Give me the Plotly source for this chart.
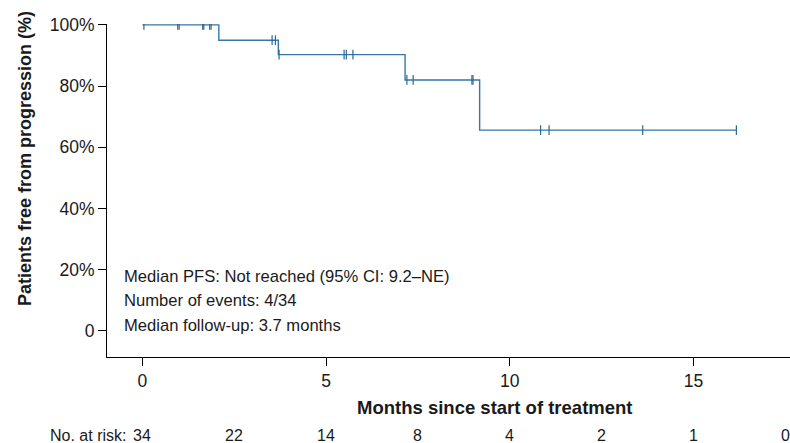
import plotly.graph_objects as go

# ---- data ----
step_times = [0, 2.08, 3.70, 7.15, 9.18, 16.17]
step_surv = [100, 95.0, 90.3, 82.0, 65.6, 65.6]
censor_times = [0.04, 0.96, 1.00, 1.64, 1.67, 1.83, 1.87, 3.53, 3.62, 3.72,
                5.49, 5.55, 5.73, 7.20, 7.37, 8.97, 9.00, 10.84, 11.07, 13.62, 16.17]
risk_times = [0, 2.5, 5, 7.5, 10, 12.5, 15, 17.5]
risk_counts = [34, 22, 14, 8, 4, 2, 1, 0]
y_tickvals = [0, 20, 40, 60, 80, 100]
y_ticktext = ["0", "20%", "40%", "60%", "80%", "100%"]
x_tickvals = [0, 5, 10, 15]
stats_lines = ["Median PFS: Not reached (95% CI: 9.2\u2013NE)",
               "Number of events: 4/34",
               "Median follow-up: 3.7 months"]


def surv_at(t):
    s = step_surv[0]
    for et, sv in zip(step_times, step_surv):
        if t >= et:
            s = sv
    return s


censor_surv = [surv_at(t) for t in censor_times]

FONT = "Arial, Liberation Sans, sans-serif"
TXT = "#1a1a1a"
LINE_COLOR = "#3677a6"

fig = go.Figure()
fig.add_trace(go.Scatter(x=step_times, y=step_surv, mode="lines",
                         line=dict(shape="hv", color=LINE_COLOR, width=1.4),
                         hoverinfo="skip", showlegend=False))
fig.add_trace(go.Scatter(x=censor_times, y=censor_surv, mode="markers",
                         marker=dict(symbol="line-ns", size=7,
                                     line=dict(color="#2b6896", width=1.2)),
                         showlegend=False))

W, H = 790, 443
L, R, T, B = 107, 0, 24, 86
plot_h = H - T - B

fig.update_layout(
    width=W, height=H,
    margin=dict(l=L, r=R, t=T, b=B, pad=0),
    plot_bgcolor="white", paper_bgcolor="white",
    font=dict(family=FONT, size=16, color=TXT),
    xaxis=dict(range=[-0.965, 17.63], tickvals=x_tickvals,
               showgrid=False, zeroline=False, showline=True,
               linecolor="black", linewidth=1, ticks="outside",
               ticklen=8, tickcolor="black", tickwidth=1,
               tickfont=dict(size=17.5, family=FONT, color=TXT)),
    yaxis=dict(range=[-8.6, 100.3], tickvals=y_tickvals, ticktext=y_ticktext,
               showgrid=False, zeroline=False, showline=True,
               linecolor="black", linewidth=1, ticks="outside",
               ticklen=8, tickcolor="black", tickwidth=1,
               tickfont=dict(size=17.5, family=FONT, color=TXT)),
)

def py(pix_y):
    return (H - B - pix_y) / plot_h

def px(pix_x):
    return (pix_x - L) / (W - L - R)

anns = []
# axis titles
anns.append(dict(text="<b>Months since start of treatment</b>", xref="paper", yref="paper",
                 x=px(495), y=py(407), xanchor="center", yanchor="middle",
                 showarrow=False, font=dict(size=18.5, family=FONT, color=TXT)))
anns.append(dict(text="<b>Patients free from progression (%)</b>", xref="paper", yref="paper",
                 x=px(25), y=py(159), xanchor="center", yanchor="middle", textangle=-90,
                 showarrow=False, font=dict(size=18, family=FONT, color=TXT)))
# stats text
for i, line in enumerate(stats_lines):
    anns.append(dict(text=line, xref="paper", yref="paper",
                     x=px(122), y=py(276 + 24.5 * i), xanchor="left", yanchor="middle",
                     showarrow=False, font=dict(size=16.6, family=FONT, color=TXT)))
# number at risk
anns.append(dict(text="No. at risk:", xref="paper", yref="paper",
                 x=px(128), y=py(435), xanchor="right", yanchor="middle",
                 showarrow=False, font=dict(size=16, family=FONT, color=TXT)))
for t, n in zip(risk_times, risk_counts):
    anns.append(dict(text=str(n), xref="x", yref="paper", x=t, y=py(435),
                     xanchor="center", yanchor="middle", showarrow=False,
                     font=dict(size=16, family=FONT, color=TXT)))
fig.update_layout(annotations=anns)

fig.write_html("out.html")
